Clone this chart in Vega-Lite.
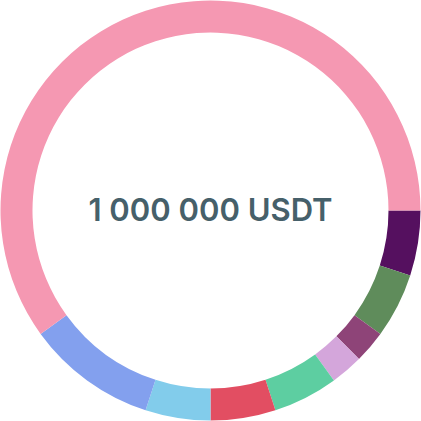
{
  "$schema": "https://vega.github.io/schema/vega-lite/v6.json",
  "width": 421,
  "height": 421,
  "padding": 0,
  "autosize": {"type": "fit", "contains": "padding"},
  "background": "white",
  "view": {"stroke": null},
  "data": {
    "values": [
      {"name": "A", "share": 5, "ord": 1},
      {"name": "B", "share": 5, "ord": 2},
      {"name": "C", "share": 2.5, "ord": 3},
      {"name": "D", "share": 2.5, "ord": 4},
      {"name": "E", "share": 5, "ord": 5},
      {"name": "F", "share": 5, "ord": 6},
      {"name": "G", "share": 5, "ord": 7},
      {"name": "H", "share": 10, "ord": 8},
      {"name": "I", "share": 60, "ord": 9}
    ]
  },
  "layer": [
    {
      "mark": {"type": "arc", "outerRadius": 210, "innerRadius": 178},
      "encoding": {
        "theta": {"field": "share", "type": "quantitative", "stack": true, "scale": {"range": [1.5707963, 7.8539816]}},
        "order": {"field": "ord", "type": "quantitative"},
        "color": {
          "field": "name",
          "type": "nominal",
          "legend": null,
          "scale": {
            "domain": ["A", "B", "C", "D", "E", "F", "G", "H", "I"],
            "range": ["#55105F", "#5F8C5B", "#8E4478", "#D4A6DB", "#5DCEA1", "#E24E62", "#82CCEB", "#83A0EE", "#F598B2"]
          }
        }
      }
    },
    {
      "data": {"values": [{"label": "1 000 000 USDT"}]},
      "mark": {"type": "text", "font": "Inter", "fontWeight": 600, "fontSize": 31, "color": "#46606A", "align": "center", "baseline": "middle", "dy": 1},
      "encoding": {"text": {"field": "label", "type": "nominal"}}
    }
  ]
}
